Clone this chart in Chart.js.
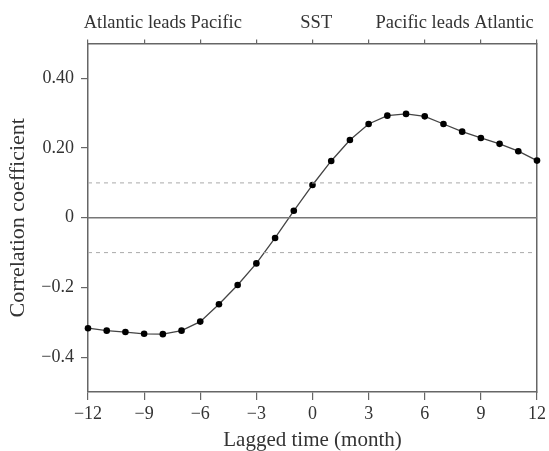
<!DOCTYPE html>
<html lang="en">
<head>
  <meta charset="UTF-8">
  <title>Lagged correlation</title>
  <script src="https://cdn.jsdelivr.net/npm/chart.js"></script>
  <style>
    body {
      margin: 0;
      background: #ffffff;
    }
    #wrap {
      width: 549px;
      height: 451px;
    }
  </style>
</head>
<body>
  <div id="wrap">
    <canvas id="lagChart" width="549" height="451"></canvas>
  </div>

  <script>
    // lag in months and correlation
    const lags = [-12, -11, -10, -9, -8, -7, -6, -5, -4, -3, -2, -1, 0, 1, 2, 3, 4, 5, 6, 7, 8, 9, 10, 11, 12];
    const corr = [-0.317, -0.324, -0.328, -0.333, -0.334, -0.324, -0.298, -0.248, -0.193, -0.131, -0.058, 0.020,
                  0.094, 0.163, 0.223, 0.269, 0.293, 0.298, 0.291, 0.269, 0.247, 0.229, 0.212, 0.191, 0.164];
    const sigLevel = [0.1, -0.1];
    const yTickVals = [0.4, 0.2, 0, -0.2, -0.4];
    const yTickLabels = ["0.40", "0.20", "0", "\u22120.2", "\u22120.4"];
    const topNotes = ["Atlantic leads Pacific", "SST", "Pacific leads Atlantic"];

    const serif = "'Liberation Serif', 'DejaVu Serif', serif";
    const axisGrey = "#666";
    const textGrey = "#333";

    // where the notes above the top axis sit, in months
    const notePos = [-8, 0.2, 7.6];

    const topNotesPlugin = {
      id: "topNotes",
      afterDraw(chart) {
        const ctx = chart.ctx;
        const xs = chart.scales.x;
        ctx.save();
        ctx.font = "18.5px " + serif;
        ctx.fillStyle = textGrey;
        ctx.textAlign = "center";
        ctx.textBaseline = "alphabetic";
        topNotes.forEach((t, i) => {
          ctx.fillText(t, xs.getPixelForValue(notePos[i]), 28);
        });
        ctx.restore();
      }
    };

    const ctx = document.getElementById("lagChart").getContext("2d");
    new Chart(ctx, {
      type: "line",
      data: {
        datasets: [
          {
            label: "zero",
            data: [{ x: -12, y: 0 }, { x: 12, y: 0 }],
            borderColor: "#777",
            borderWidth: 1.5,
            pointRadius: 0
          },
          {
            label: "upper",
            data: [{ x: -12, y: sigLevel[0] }, { x: 11.8, y: sigLevel[0] }],
            borderColor: "#aaa",
            borderWidth: 1,
            borderDash: [4, 4],
            pointRadius: 0
          },
          {
            label: "lower",
            data: [{ x: -12, y: sigLevel[1] }, { x: 11.8, y: sigLevel[1] }],
            borderColor: "#aaa",
            borderWidth: 1,
            borderDash: [4, 4],
            pointRadius: 0
          },
          {
            label: "correlation",
            data: lags.map((l, i) => ({ x: l, y: corr[i] })),
            borderColor: "#444",
            borderWidth: 1.3,
            pointRadius: 3.3,
            pointBackgroundColor: "#000",
            pointBorderColor: "#000",
            pointBorderWidth: 0,
            clip: false
          }
        ]
      },
      options: {
        responsive: false,
        animation: false,
        layout: { padding: 0 },
        plugins: {
          legend: { display: false },
          tooltip: { enabled: false }
        },
        scales: {
          x: {
            type: "linear",
            position: "bottom",
            min: -12,
            max: 12,
            afterFit(axis) { axis.height = 59; },
            ticks: {
              stepSize: 3,
              padding: 3,
              color: textGrey,
              font: { family: serif, size: 18 },
              maxRotation: 0,
              callback: v => String(v).replace("-", "\u2212")
            },
            grid: {
              drawOnChartArea: false,
              drawTicks: true,
              tickLength: 8,
              color: axisGrey,
              lineWidth: 1.2
            },
            border: { display: true, color: axisGrey, width: 1.5 },
            title: {
              display: true,
              text: "Lagged time (month)",
              color: textGrey,
              font: { family: serif, size: 21, lineHeight: 1 },
              padding: 0
            }
          },
          xTop: {
            type: "linear",
            position: "top",
            min: -12,
            max: 12,
            afterFit(axis) { axis.height = 43.5; },
            ticks: { stepSize: 3, display: false },
            grid: {
              drawOnChartArea: false,
              drawTicks: true,
              tickLength: 4,
              color: axisGrey,
              lineWidth: 1.2
            },
            border: { display: true, color: axisGrey, width: 1.5 }
          },
          y: {
            type: "linear",
            position: "left",
            min: -0.5,
            max: 0.5,
            afterFit(axis) { axis.width = 88; },
            afterBuildTicks(axis) {
              axis.ticks = yTickVals.map(v => ({ value: v }));
            },
            ticks: {
              padding: 7,
              color: textGrey,
              font: { family: serif, size: 18 },
              callback: (v, i) => yTickLabels[i]
            },
            grid: {
              drawOnChartArea: false,
              drawTicks: true,
              tickLength: 7,
              color: axisGrey,
              lineWidth: 1.2
            },
            border: { display: true, color: axisGrey, width: 1.5 },
            title: {
              display: true,
              text: "Correlation coefficient",
              color: textGrey,
              font: { family: serif, size: 22, lineHeight: 1 },
              padding: { top: 7, bottom: 0 }
            }
          },
          yRight: {
            type: "linear",
            position: "right",
            min: -0.5,
            max: 0.5,
            afterFit(axis) { axis.width = 10; },
            ticks: { display: false },
            grid: { drawOnChartArea: false, drawTicks: false },
            border: { display: true, color: axisGrey, width: 1.5 }
          }
        }
      },
      plugins: [topNotesPlugin]
    });
  </script>
</body>
</html>
